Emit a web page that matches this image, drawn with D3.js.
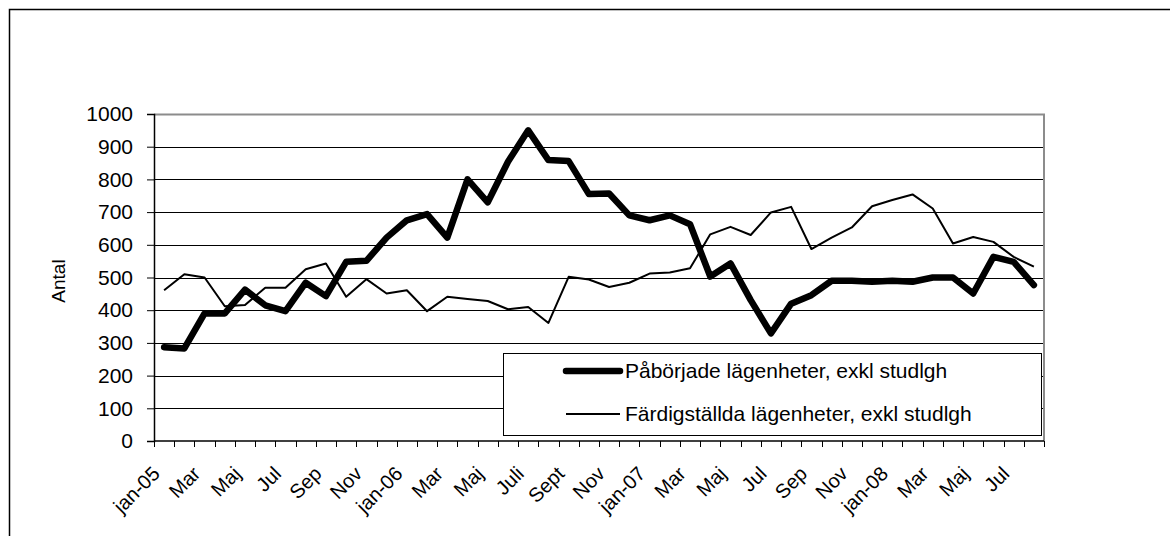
<!DOCTYPE html>
<html>
<head>
<meta charset="utf-8">
<script src="https://cdn.jsdelivr.net/npm/d3@7"></script>
<style>
  body { margin: 0; background: #fff; }
  svg { display: block; font-family: Arial, "Liberation Sans", sans-serif; }
</style>
</head>
<body>
<div id="chart"></div>
<script>
(function (d3) {
    'use strict';

    // Months jan-05 .. aug-08 (only every other one gets a label).
    var months = [
        'jan-05', 'feb', 'Mar', 'Apr', 'Maj', 'Jun', 'Jul', 'Aug', 'Sep', 'Okt', 'Nov', 'Dec',
        'jan-06', 'feb', 'Mar', 'Apr', 'Maj', 'Jun', 'Juli', 'Aug', 'Sept', 'Okt', 'Nov', 'Dec',
        'jan-07', 'feb', 'Mar', 'Apr', 'Maj', 'Jun', 'Jul', 'Aug', 'Sep', 'Okt', 'Nov', 'Dec',
        'jan-08', 'feb', 'Mar', 'Apr', 'Maj', 'Jun', 'Jul', 'Aug'
    ];
    var tickLabels = [
        'jan-05', 'Mar', 'Maj', 'Jul', 'Sep', 'Nov',
        'jan-06', 'Mar', 'Maj', 'Juli', 'Sept', 'Nov',
        'jan-07', 'Mar', 'Maj', 'Jul', 'Sep', 'Nov',
        'jan-08', 'Mar', 'Maj', 'Jul'
    ];
    var paborjade = [
        287, 283, 390, 390, 463, 415, 397, 484, 443, 548, 551, 622,
        675, 694, 622, 800, 730, 854, 950, 859, 856, 755, 757, 690,
        675, 690, 663, 503, 543, 431, 329, 420, 446, 490, 490, 487,
        490, 487, 500, 500, 451, 563, 548, 477
    ];
    var fardigstallda = [
        461, 510, 500, 412, 416, 469, 469, 525, 543, 441, 495, 451,
        461, 397, 441, 434, 428, 403, 410, 361, 502, 494, 471, 484,
        512, 515, 528, 632, 655, 630, 699, 716, 587, 622, 653, 718,
        737, 754, 711, 604, 624, 609, 563, 533
    ];
    var yTicks = [0, 100, 200, 300, 400, 500, 600, 700, 800, 900, 1000];
    var seriesNames = [
        'Påbörjade lägenheter, exkl studlgh',
        'Färdigställda lägenheter, exkl studlgh'
    ];

    // Plot area
    var margin = {top: 114, left: 154, right: 126, bottom: 95};
    var W = 1170, H = 536;
    var width = W - margin.left - margin.right;
    var height = H - margin.top - margin.bottom;

    var svg = d3.select('#chart').append('svg')
        .attr('width', W)
        .attr('height', H);

    // Outer chart border
    svg.append('rect')
        .attr('x', 9.5).attr('y', 9.5)
        .attr('width', 1300).attr('height', 700)
        .attr('fill', 'none')
        .attr('stroke', '#000')
        .attr('stroke-width', 1.5);

    var g = svg.append('g')
        .attr('transform', 'translate(' + margin.left + ',' + margin.top + ')');

    var x = d3.scaleBand().domain(d3.range(months.length)).range([0, width]).padding(0);
    var y = d3.scaleLinear().domain([0, 1000]).range([height, 0]);
    var cx = function (i) { return x(i) + x.bandwidth() / 2; };

    // Gridlines
    g.append('g')
        .selectAll('line')
        .data(yTicks.filter(function (d) { return d > 0 && d < 1000; }))
        .enter().append('line')
        .attr('x1', 0).attr('x2', width)
        .attr('y1', function (d) { return Math.round(y(d)) + 0.5; })
        .attr('y2', function (d) { return Math.round(y(d)) + 0.5; })
        .attr('stroke', '#000')
        .attr('stroke-width', 1);

    // Plot area border (gray, top and right)
    g.append('path')
        .attr('d', 'M0,' + (y(1000) + 0.5) + 'H' + width + 'V' + height)
        .attr('fill', 'none')
        .attr('stroke', '#8c8c8c')
        .attr('stroke-width', 2);

    // y axis
    var yAxis = g.append('g')
        .call(d3.axisLeft(y).tickValues(yTicks).tickFormat(d3.format('d')).tickSize(7).tickPadding(14))
    ;
    yAxis.select('.domain').attr('stroke', '#000').attr('stroke-width', 1.5);
    yAxis.selectAll('.tick line').attr('stroke', '#000');
    yAxis.selectAll('.tick text')
        .attr('font-size', '21px')
        .attr('font-family', 'Arial, "Liberation Sans", sans-serif')
        .attr('fill', '#000');

    // x axis with ticks at band boundaries
    var xg = g.append('g').attr('transform', 'translate(0,' + height + ')');
    xg.append('line')
        .attr('x1', 0).attr('x2', width)
        .attr('y1', 0).attr('y2', 0)
        .attr('stroke', '#000').attr('stroke-width', 1.5);
    xg.selectAll('.xtick')
        .data(d3.range(months.length + 1))
        .enter().append('line')
        .attr('class', 'xtick')
        .attr('x1', function (i) { return Math.round(i * x.step()) + 0.5; })
        .attr('x2', function (i) { return Math.round(i * x.step()) + 0.5; })
        .attr('y1', 0).attr('y2', 6)
        .attr('stroke', '#000');

    xg.selectAll('.xlabel')
        .data(tickLabels)
        .enter().append('text')
        .attr('class', 'xlabel')
        .attr('transform', function (d, k) {
            return 'translate(' + (cx(k * 2) - 3) + ',34) rotate(-45)';
        })
        .attr('text-anchor', 'end')
        .attr('font-size', '20px')
        .text(function (d) { return d; });

    // Y axis title
    svg.append('text')
        .attr('transform', 'translate(65,281) rotate(-90)')
        .attr('text-anchor', 'middle')
        .attr('font-size', '19px')
        .text('Antal');

    // Lines
    var line = d3.line()
        .x(function (d, i) { return cx(i); })
        .y(function (d) { return y(d); });

    g.append('path')
        .datum(fardigstallda)
        .attr('d', line)
        .attr('fill', 'none')
        .attr('stroke', '#000')
        .attr('stroke-width', 2)
        .attr('stroke-linejoin', 'round');

    g.append('path')
        .datum(paborjade)
        .attr('d', line)
        .attr('fill', 'none')
        .attr('stroke', '#000')
        .attr('stroke-width', 6.5)
        .attr('stroke-linejoin', 'round')
        .attr('stroke-linecap', 'round');

    // Legend
    var legend = svg.append('g');
    legend.append('rect')
        .attr('x', 503.5).attr('y', 353.5)
        .attr('width', 538).attr('height', 82)
        .attr('fill', '#fff')
        .attr('stroke', '#000')
        .attr('stroke-width', 1);

    var items = legend.selectAll('.item')
        .data(seriesNames)
        .enter().append('g')
        .attr('class', 'item')
        .attr('transform', function (d, i) { return 'translate(0,' + (371 + i * 43) + ')'; });

    items.append('line')
        .attr('x1', 566).attr('x2', 620)
        .attr('y1', 0).attr('y2', 0)
        .attr('stroke', '#000')
        .attr('stroke-width', function (d, i) { return i === 0 ? 6.5 : 2; })
        .attr('stroke-linecap', function (d, i) { return i === 0 ? 'round' : 'butt'; });

    items.append('text')
        .attr('x', 625)
        .attr('y', 0)
        .attr('dy', '0.35em')
        .attr('font-size', '21px')
        .text(function (d) { return d; });
})(d3);
</script>
</body>
</html>
